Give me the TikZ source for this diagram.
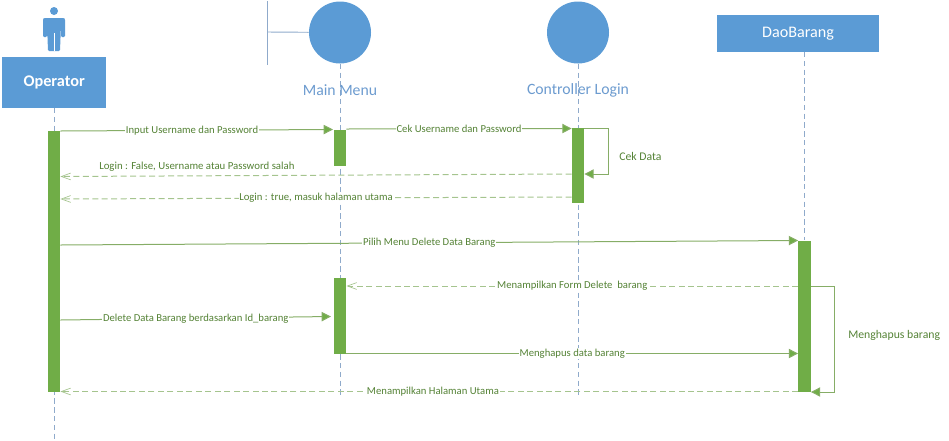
\documentclass[tikz,border=0pt]{standalone}
\usepackage{fontspec}
\setmainfont{Carlito}
\usetikzlibrary{arrows.meta}
\definecolor{bluefill}{HTML}{5B9BD5}
\definecolor{lifegray}{HTML}{8FAACB}
\definecolor{barfill}{HTML}{70AD47}
\definecolor{msgline}{HTML}{86AD66}
\definecolor{dashline}{HTML}{A5C48E}
\definecolor{msgtext}{HTML}{548235}
\definecolor{headtext}{HTML}{6C9BCF}
\tikzset{
  every node/.style={font=\fontsize{8}{10}\selectfont},
  lifeline/.style={draw=lifegray,line width=0.6pt,dash pattern=on 4pt off 2.6pt},
  bar/.style={fill=barfill,draw=none,minimum width=9.2pt,inner sep=0pt,anchor=north},
  headbox/.style={fill=bluefill,draw=none,inner sep=0pt,text=white},
  entity/.style={circle,fill=bluefill,draw=none,minimum size=46.5pt,inner sep=0pt},
  headlabel/.style={text=headtext,font=\fontsize{11.8}{13}\selectfont,inner sep=0pt},
  msg/.style={draw=msgline,line width=0.75pt,-{Triangle[length=7pt,width=7pt,fill=barfill]}},
  ret/.style={draw=dashline,line width=0.75pt,dash pattern=on 4.5pt off 2.6pt,-{Straight Barb[length=7pt,width=10pt,angle'=40,line width=0.5pt]}},
  msglabel/.style={text=msgtext,fill=white,inner sep=0.6pt},
  freelabel/.style={text=msgtext,inner sep=0pt,font=\fontsize{8.1}{10}\selectfont},
  sidelabel/.style={text=msgtext,inner sep=0pt,font=\fontsize{8.8}{10}\selectfont},
}
\begin{document}
\begin{tikzpicture}[x=0.75pt,y=-0.75pt]
\useasboundingbox (0,0) rectangle (949,440);
% actor
\node[circle,fill=bluefill,minimum size=6pt,inner sep=0pt] (head) at (54,11) {};
\fill[bluefill,rounded corners=0.8pt] (44,18) -- (64,18) -- (65,19) -- (65,37) -- (61,37) -- (61,24) -- (60,51) -- (48,51) -- (47,24) -- (47,37) -- (43,37) -- (43,19) -- cycle;
\draw[white,line width=0.5pt] (54,33) -- (54,51);
% heads
\node[headbox,minimum width=78.4pt,minimum height=38.2pt,font=\fontsize{12.2}{14}\selectfont\bfseries] (op) at (54.2,82.5) {Operator};
\node[entity] (mm) at (340,32.5) {};
\node[entity] (cl) at (578,32.5) {};
\node[headbox,minimum width=122.2pt,minimum height=27.8pt,font=\fontsize{12.1}{14}\selectfont] (dao) at (798,33.5) {DaoBarang};
\coordinate (bt) at (267,1);
\coordinate (bb) at (267,65);
\coordinate (bm) at (267,32);
\draw[draw=lifegray,line width=0.7pt] (bt) -- (bb);
\draw[draw=lifegray,line width=0.7pt] (bm) -- (mm);
% lifeline ends
\coordinate (opend) at (54,440);
\coordinate (mmend) at (340,397);
\coordinate (clend) at (578,397);
\coordinate (daoend) at (804,240);
\draw[lifeline] (54,108) -- (opend);
\draw[lifeline] (mm.south) -- (mmend);
\draw[lifeline] (cl.south) -- (clend);
\draw[lifeline] (804,52) -- (daoend);
% head labels
\node[headlabel] (mml) at (340,90) {Main Menu};
\node[headlabel] (cll) at (578,90) {Controller Login};
% bars
\node[bar,minimum height=261pt*0.75] (ba) at (54,131) {};
\node[bar,minimum height=36pt*0.75] (bm1) at (340,129.5) {};
\node[bar,minimum height=76pt*0.75] (bm2) at (340,278) {};
\node[bar,minimum height=75pt*0.75] (bc) at (578,128) {};
\node[bar,minimum height=151.5pt*0.75] (bd) at (804.5,240.5) {};
% messages
\draw[msg] (ba.east |- 0,131) -- node[msglabel,pos=0.483] (l1) {Input Username dan Password} (333,129.5);
\draw[msg] (bm1.east |- 0,129) -- node[msglabel,pos=0.5] (l2) {Cek Username dan Password} (bc.west |- 0,128.5);
\draw[msg] (bc.east |- 0,128.5) -| (608,174) -- (bc.east |- 0,174);
\node[sidelabel,anchor=west] (l3) at (619,156) {Cek Data};
\draw[ret] (bc.west |- 0,174) -- (ba.east |- 0,176.5);
\node[freelabel,anchor=west] (l4) at (99,166.5) {Login : False, Username atau Password salah};
\draw[ret] (bc.west |- 0,197) -- node[msglabel,pos=0.5] (l5) {Login : true, masuk halaman utama} (ba.east |- 0,199);
\draw[msg] (ba.east |- 0,245) -- node[msglabel,pos=0.5] (l6) {Pilih Menu Delete Data Barang} (bd.west |- 0,240.5);
\draw[ret] (bd.west |- 0,286) -- node[msglabel,pos=0.5] (l7) {Menampilkan Form Delete\ \ barang} (bm2.east |- 0,286);
\draw[msg] (ba.east |- 0,320) -- node[msglabel,pos=0.5] (l8) {Delete Data Barang berdasarkan Id\_barang} (331,316.5);
\draw[msg] (bm2.east |- 0,353.5) -- node[msglabel,pos=0.5] (l9) {Menghapus data barang} (bd.west |- 0,353.5);
\draw[msg] (bd.east |- 0,286) -| (834.5,392) -- (bd.east |- 0,392);
\node[sidelabel,anchor=west] (l10) at (848,335) {Menghapus barang};
\draw[ret] (bd.west |- 0,391.5) -- node[msglabel,pos=0.495] (l11) {Menampilkan Halaman Utama} (ba.east |- 0,391.5);
\end{tikzpicture}
\end{document}
